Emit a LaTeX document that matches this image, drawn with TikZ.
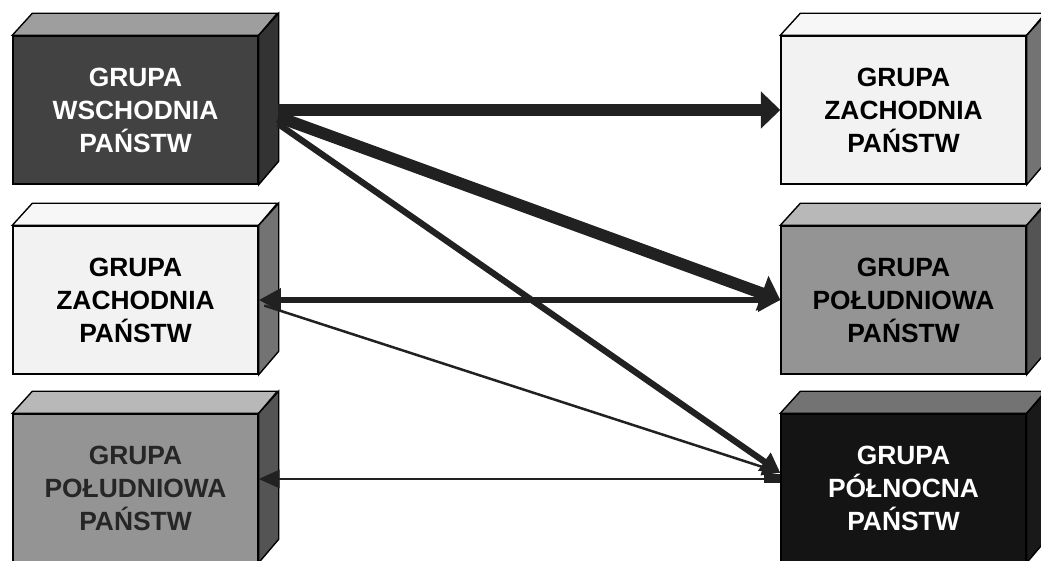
\documentclass[tikz,border=0pt]{standalone}
\usepackage{fontspec}
\setmainfont{Liberation Sans}
\usetikzlibrary{arrows.meta}

\definecolor{strz}{gray}{0.13}
\definecolor{wschF}{gray}{0.26}
\definecolor{wschG}{gray}{0.62}
\definecolor{wschB}{gray}{0.20}
\definecolor{zachF}{gray}{0.95}
\definecolor{zachG}{gray}{0.97}
\definecolor{zachB}{gray}{0.45}
\definecolor{poludF}{gray}{0.58}
\definecolor{poludG}{gray}{0.72}
\definecolor{poludB}{gray}{0.33}
\definecolor{polnF}{gray}{0.08}
\definecolor{polnG}{gray}{0.45}
\definecolor{polnB}{gray}{0.10}

\tikzset{
  kostka/.style={draw=black,line width=1pt,minimum width=176.4pt,minimum height=106.6pt,
    inner sep=0pt,align=center,font=\bfseries\fontsize{19}{23.8}\selectfont},
  gruba/.style={line width=8.5pt,draw=strz,-{Triangle[length=14pt,width=26pt]}},
  srednia/.style={line width=4.5pt,draw=strz,-{Triangle[length=14pt,width=15pt]}},
  cienka/.style={line width=1.8pt,draw=strz,-{Triangle[length=13pt,width=12pt]}}
}

\begin{document}
\begin{tikzpicture}[x={(0.72pt,0)},y={(0,-0.72pt)}]
\useasboundingbox (0,0) rectangle (1041,561);
% lewa kolumna
\node[kostka,fill=wschF,text=white] (wsch) at (135.5,110) {GRUPA\\WSCHODNIA\\PAŃSTW};
\node[kostka,fill=zachF,text=black] (zachL) at (135.5,300) {GRUPA\\ZACHODNIA\\PAŃSTW};
\node[kostka,fill=poludF,text=black!85] (poludL) at (135.5,488) {GRUPA\\POŁUDNIOWA\\PAŃSTW};
% prawa kolumna
\node[kostka,fill=zachF,text=black] (zachP) at (903.5,110) {GRUPA\\ZACHODNIA\\PAŃSTW};
\node[kostka,fill=poludF,text=black] (poludP) at (903.5,300) {GRUPA\\POŁUDNIOWA\\PAŃSTW};
\node[kostka,fill=polnF,text=white] (poln) at (903.5,488) {GRUPA\\PÓŁNOCNA\\PAŃSTW};
% gora i bok
\foreach \n/\g/\b in {wsch/wschG/wschB,zachL/zachG/zachB,poludL/poludG/poludB,
    zachP/zachG/zachB,poludP/poludG/poludB,poln/polnG/polnB}{
  \filldraw[line width=1pt,fill=\g](\n.north west)--++(20,-22)--++(245,0)--(\n.north east)--cycle;
  \filldraw[line width=1pt,fill=\b](\n.north east)--++(20,-22)--++(0,148)--(\n.south east)--cycle;
}
% strzalki
\draw[gruba]([xshift=14pt]wsch.east)--(zachP.west);
\draw[gruba]([xshift=14pt,yshift=-5pt]wsch.east)--(poludP.west);
\draw[srednia]([xshift=14pt,yshift=-10pt]wsch.east)--([yshift=11pt]poln.west);
\draw[line width=5pt,draw=strz,{Triangle[length=16pt,width=16pt]}-{Triangle[length=16pt,width=16pt]}](zachL.east)--(poludP.west);
\draw[cienka]([xshift=4pt,yshift=-4pt]zachL.east)--([yshift=11pt]poln.west);
\draw[cienka,{Rectangle[length=12pt,width=6.5pt]}-{Triangle[length=15pt,width=13pt]}]([yshift=6.5pt]poln.west)--([yshift=6.5pt]poludL.east);

\end{tikzpicture}
\end{document}
